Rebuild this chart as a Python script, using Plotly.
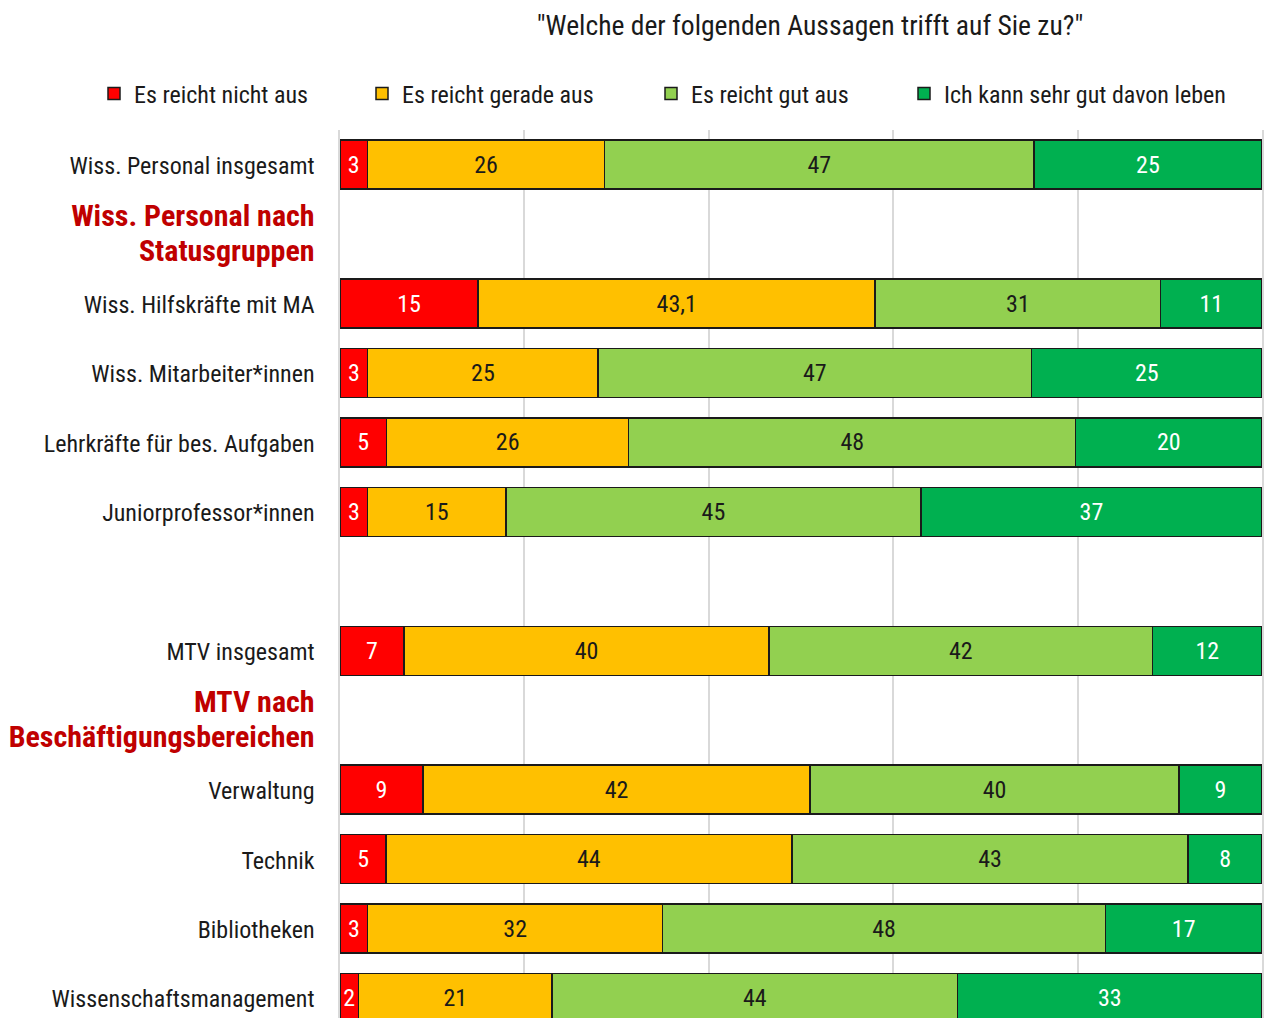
import plotly.graph_objects as go

# row order top -> bottom (headers and a spacer row carry no bars)
rows = [
    "Wiss. Personal insgesamt",
    "hdr_wiss",
    "Wiss. Hilfskräfte mit MA",
    "Wiss. Mitarbeiter*innen",
    "Lehrkräfte für bes. Aufgaben",
    "Juniorprofessor*innen",
    "spacer",
    "MTV insgesamt",
    "hdr_mtv",
    "Verwaltung",
    "Technik",
    "Bibliotheken",
    "Wissenschaftsmanagement",
]
headers = {
    "hdr_wiss": "Wiss. Personal nach<br>Statusgruppen",
    "hdr_mtv": "MTV nach<br>Beschäftigungsbereichen",
}

groups = [
    "Wiss. Personal insgesamt",
    "Wiss. Hilfskräfte mit MA",
    "Wiss. Mitarbeiter*innen",
    "Lehrkräfte für bes. Aufgaben",
    "Juniorprofessor*innen",
    "MTV insgesamt",
    "Verwaltung",
    "Technik",
    "Bibliotheken",
    "Wissenschaftsmanagement",
]
nicht_aus = [3, 15, 3, 5, 3, 7, 9, 5, 3, 2]
gerade_aus = [26, 43.1, 25, 26, 15, 40, 42, 44, 32, 21]
gut_aus = [47, 31, 47, 48, 45, 42, 40, 43, 48, 44]
sehr_gut = [25, 11, 25, 20, 37, 12, 9, 8, 17, 33]

# name, values, fill, label colour, legend entry width
series = [
    ("Es reicht nicht aus", nicht_aus, "#FF0000", "white", 223),
    ("Es reicht gerade aus", gerade_aus, "#FFC000", "#1a1a1a", 244),
    ("Es reicht gut aus", gut_aus, "#92D050", "#1a1a1a", 208),
    ("Ich kann sehr gut davon leben", sehr_gut, "#00B050", "white", 280),
]

FONT = "Roboto Condensed, Roboto, sans-serif"

fig = go.Figure()
for name, vals, color, txtcol, lw in series:
    fig.add_trace(go.Bar(
        y=groups,
        x=vals,
        name=name,
        orientation="h",
        marker=dict(color=color, line=dict(color="#1a1a1a", width=1.5)),
        text=[str(v).replace(".", ",") for v in vals],
        texttemplate="%{text}",
        textposition="inside",
        insidetextanchor="middle",
        textangle=0,
        insidetextfont=dict(color=txtcol, size=24, family=FONT),
        legendwidth=lw,
        hoverinfo="skip",
    ))

# tick font is 27px so two-line headers get ~35px line spacing
ticktext = []
for r in rows:
    if r in headers:
        ticktext.append("<b><span style='color:#C00000;font-size:30px'>%s</span></b>" % headers[r])
    elif r == "spacer":
        ticktext.append(" ")
    else:
        ticktext.append("<span style='font-size:24px'>%s</span>" % r)

fig.update_layout(
    width=1264,
    height=1018,
    barmode="stack",
    barnorm="percent",
    bargap=0.294,
    plot_bgcolor="white",
    paper_bgcolor="white",
    font=dict(family=FONT, size=24, color="#1a1a1a"),
    margin=dict(l=340, r=2, t=130, b=0, autoexpand=False),
    uniformtext=dict(minsize=24, mode="show"),
    title=dict(
        text='"Welche der folgenden Aussagen trifft auf Sie zu?"',
        x=810 / 1264, xref="container", xanchor="center",
        y=1 - 25 / 1018, yref="container", yanchor="middle",
        font=dict(size=27.6, family=FONT, color="#1a1a1a"),
    ),
    legend=dict(
        orientation="h",
        x=(94 - 340) / 922, xref="paper", xanchor="left",
        y=1 + (130 - 94) / 888, yref="paper", yanchor="middle",
        font=dict(size=24, family=FONT),
        traceorder="normal",
        itemwidth=30,
    ),
    xaxis=dict(
        range=[0, 100],
        tickvals=[0, 20, 40, 60, 80, 100],
        showticklabels=False,
        showgrid=True,
        gridcolor="#d9d9d9",
        gridwidth=2,
        zeroline=False,
        fixedrange=True,
    ),
    yaxis=dict(
        type="category",
        categoryorder="array",
        categoryarray=rows,
        tickvals=rows,
        ticktext=ticktext,
        tickfont=dict(size=27, family=FONT, color="#1a1a1a"),
        range=[12 + 20 / 69.4, -0.5],
        ticks="",
        ticklabelstandoff=18,
        automargin=False,
        showline=True,
        mirror=True,
        linecolor="#d9d9d9",
        linewidth=2,
        showgrid=False,
        zeroline=False,
        fixedrange=True,
    ),
)

fig.write_html(
    "out.html",
    config={"displayModeBar": False},
    post_script="document.body.style.margin='0';document.body.style.overflow='hidden';",
)
